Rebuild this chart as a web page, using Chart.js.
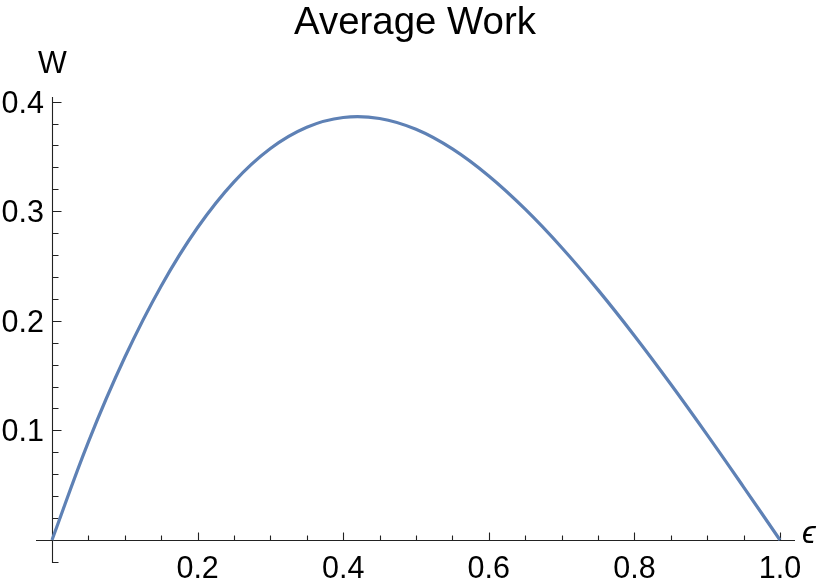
<!DOCTYPE html>
<html>
<head>
<meta charset="utf-8">
<script src="https://cdn.jsdelivr.net/npm/chart.js@4"></script>
<style>
    html, body { margin: 0; padding: 0; background: #fff; }
    #wrap { width: 830px; height: 586px; position: relative; }
</style>
</head>
<body>
<div id="wrap"><canvas id="workChart"></canvas></div>
<script>
// values (every 0.05 in epsilon)
const chartTitle = 'Average Work';
const xAxisLabel = '\u03F5';
const yAxisLabel = 'W';
const epsilon = [0, 0.05, 0.1, 0.15, 0.2, 0.25, 0.3, 0.35, 0.4, 0.45, 0.5,
                 0.55, 0.6, 0.65, 0.7, 0.75, 0.8, 0.85, 0.9, 0.95, 1.0];
const work = [0, 0.0896, 0.1667, 0.2318, 0.2851, 0.3268, 0.3572, 0.3766, 0.3855, 0.3846, 0.3747,
              0.3568, 0.3321, 0.3018, 0.2669, 0.2282, 0.1864, 0.1421, 0.0959, 0.0483, 0];
const xTicks = [0.2, 0.4, 0.6, 0.8, 1.0];
const xTickLabels = ['0.2', '0.4', '0.6', '0.8', '1.0'];
const yTicks = [0.1, 0.2, 0.3, 0.4];
const yTickLabels = ['0.1', '0.2', '0.3', '0.4'];
const xMinorStep = 0.05;
const yMinorStep = 0.02;
const xRange = [-0.022, 1.0206];
const yRange = [-0.021, 0.4042];

const tickFont = '30.5px "Liberation Sans", Arial, sans-serif';

// Mathematica style axes crossing at the origin, ticks pointing inwards
const mathAxes = {
    id: 'mathAxes',
    beforeDatasetsDraw(chart) {
        const ctx = chart.ctx;
        const xs = chart.scales.x, ys = chart.scales.y;
        const x0 = Math.round(xs.getPixelForValue(0)) + 0.5;
        const y0 = Math.round(ys.getPixelForValue(0)) + 0.5;

        ctx.save();
        ctx.strokeStyle = '#222';
        ctx.lineWidth = 1.1;
        ctx.beginPath();
        ctx.moveTo(xs.left, y0);
        ctx.lineTo(xs.right, y0);
        ctx.moveTo(x0, ys.bottom);
        ctx.lineTo(x0, ys.top);

        // x ticks
        for (let k = Math.ceil(xRange[0] / xMinorStep); k * xMinorStep <= xRange[1]; k++) {
            if (k === 0) continue;
            const px = Math.round(xs.getPixelForValue(k * xMinorStep)) + 0.5;
            const len = (k % 4 === 0) ? 8 : 5;
            ctx.moveTo(px, y0);
            ctx.lineTo(px, y0 - len);
        }
        // y ticks
        for (let k = Math.ceil(yRange[0] / yMinorStep); k * yMinorStep <= yRange[1]; k++) {
            if (k === 0) continue;
            const py = Math.round(ys.getPixelForValue(k * yMinorStep)) + 0.5;
            const len = (k % 5 === 0) ? 9 : 6;
            ctx.moveTo(x0, py);
            ctx.lineTo(x0 + len, py);
        }
        ctx.stroke();

        // tick labels
        ctx.fillStyle = '#000';
        ctx.font = tickFont;
        ctx.textAlign = 'center';
        ctx.textBaseline = 'alphabetic';
        xTicks.forEach(function (v, i) {
            ctx.fillText(xTickLabels[i], xs.getPixelForValue(v), y0 + 37);
        });
        ctx.textAlign = 'right';
        yTicks.forEach(function (v, i) {
            ctx.fillText(yTickLabels[i], x0 - 8.5, ys.getPixelForValue(v) + 11);
        });

        // axis labels
        ctx.textAlign = 'center';
        ctx.fillText(yAxisLabel, x0, 73);
        ctx.textAlign = 'left';
        ctx.font = 'italic 31px "Liberation Sans", "DejaVu Sans", sans-serif';
        ctx.fillText(xAxisLabel, xs.right + 7, y0 + 2);

        // title
        ctx.font = '38.4px "Liberation Sans", Arial, sans-serif';
        ctx.textAlign = 'center';
        ctx.fillText(chartTitle, chart.width / 2, 34);
        ctx.restore();
    }
};

const ctx = document.getElementById('workChart').getContext('2d');
new Chart(ctx, {
    type: 'line',
    data: {
        datasets: [{
            label: chartTitle,
            data: epsilon.map(function (e, i) { return { x: e, y: work[i] }; }),
            borderColor: '#5e81b5',
            borderWidth: 3.2,
            pointRadius: 0,
            fill: false,
            tension: 0.4
        }]
    },
    options: {
        responsive: true,
        maintainAspectRatio: false,
        animation: false,
        layout: { padding: { left: 36, right: 35, top: 97, bottom: 23 } },
        scales: {
            x: { type: 'linear', min: xRange[0], max: xRange[1], display: false },
            y: { type: 'linear', min: yRange[0], max: yRange[1], display: false }
        },
        plugins: {
            legend: { display: false },
            tooltip: { enabled: false }
        }
    },
    plugins: [mathAxes]
});
</script>
</body>
</html>
